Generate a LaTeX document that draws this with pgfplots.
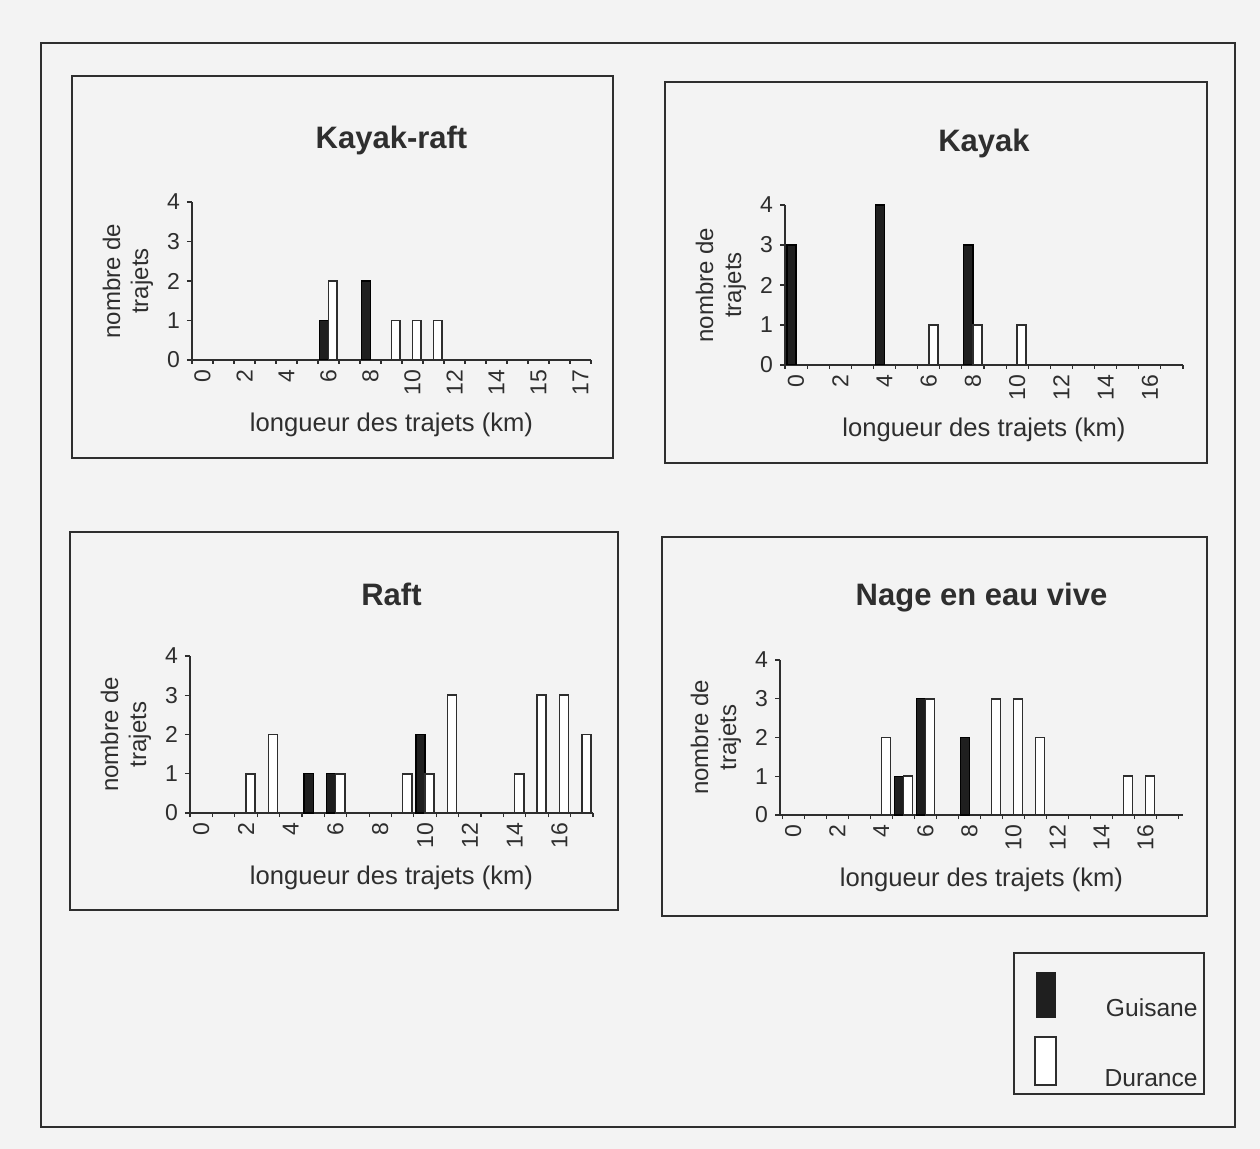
\documentclass[border=0pt]{standalone}
\usepackage{fontspec}
\setmainfont{Liberation Sans}
\usepackage{pgfplots}
\pgfplotsset{compat=1.18}

\definecolor{ink}{HTML}{2E2E2E}
\definecolor{paper}{HTML}{F3F3F3}

\pgfplotsset{
  trajets/.style={
    scale only axis,
    anchor=south west,
    ybar, bar width=0.41,
    enlargelimits=false,
    ymin=0, ymax=4, ytick={0,...,4},
    axis x line=bottom, axis y line=left,
    axis line style={-, ink, line width=0.9pt},
    tick align=outside,
    major tick length=2.5pt, minor tick length=2pt,
    major x tick style={draw=none},
    minor tick style={ink, line width=0.6pt},
    ytick style={ink, line width=0.6pt},
    /pgf/number format/assume math mode=true,
    tick label style={font=\fontsize{11.5}{13}\selectfont, text=ink},
    xticklabel style={rotate=90, anchor=east, xshift=1pt},
    xlabel={longueur des trajets (km)},
    xlabel style={at={(axis description cs:0.5,0)}, anchor=center, yshift=-32.5pt,
      font=\fontsize{12.8}{14}\selectfont, text=ink},
    ylabel={nombre de\\trajets},
    ylabel style={at={(axis description cs:0,0.5)}, anchor=center, yshift=32pt,
      align=center, font=\fontsize{12}{14}\selectfont, text=ink},
    title style={at={(axis description cs:0.5,1)}, anchor=center, yshift=25pt,
      font=\bfseries\fontsize{15.5}{18}\selectfont, text=ink},
  },
  guisane/.style={fill=black!88, draw=black, line width=0.6pt, bar shift=-0.205},
  durance/.style={fill=white, draw=ink, line width=0.8pt, bar shift=0.205},
}

\begin{document}
\begin{tikzpicture}[x=0.5pt, y=-0.5pt]

% page and frames
\fill[paper] (0,0) rectangle (1260,1149);
\draw[ink, line width=1.1pt] (41,43) rectangle (1235,1127);
\draw[ink, line width=0.9pt] (72,76) rectangle (613,458);
\draw[ink, line width=0.9pt] (665,82) rectangle (1207,463);
\draw[ink, line width=0.9pt] (70,532) rectangle (618,910);
\draw[ink, line width=0.9pt] (662,537) rectangle (1207,916);

% Kayak-raft
\begin{axis}[trajets, at={(96pt,-180pt)}, width=199.5pt, height=79pt,
    title={Kayak-raft},
    xmin=-0.5, xmax=18.5,
    xtick={0,2,...,18}, xticklabels={0,2,4,6,8,10,12,14,15,17},
    minor xtick={-0.5,0.5,...,18.5}]
\addplot[guisane] coordinates {(6,1) (8,2)};
\addplot[durance] coordinates {(6,2) (9,1) (10,1) (11,1)};
\end{axis}

% Kayak
\begin{axis}[trajets, at={(392.5pt,-182.5pt)}, width=199pt, height=80pt,
    title={Kayak},
    xmin=-0.5, xmax=17.5,
    xtick={0,2,...,16},
    minor xtick={-0.5,0.5,...,17.5}]
\addplot[guisane] coordinates {(0,3) (4,4) (8,3)};
\addplot[durance] coordinates {(6,1) (8,1) (10,1)};
\end{axis}

% Raft
\begin{axis}[trajets, at={(95pt,-406.5pt)}, width=201.5pt, height=78.5pt,
    title={Raft},
    xmin=-0.5, xmax=17.5,
    xtick={0,2,...,16},
    minor xtick={-0.5,0.5,...,17.5}]
\addplot[guisane] coordinates {(5,1) (6,1) (10,2)};
\addplot[durance] coordinates {(2,1) (3,2) (6,1) (9,1) (10,1) (11,3) (14,1) (15,3) (16,3) (17,2)};
\end{axis}

% Nage en eau vive
\begin{axis}[trajets, at={(390pt,-407.5pt)}, width=201.5pt, height=77.5pt,
    title={Nage en eau vive},
    xmin=-0.6, xmax=17.7,
    xtick={0,2,...,16},
    minor xtick={-0.5,0.5,...,17.5}]
\addplot[guisane] coordinates {(5,1) (6,3) (8,2)};
\addplot[durance] coordinates {(4,2) (5,1) (6,3) (9,3) (10,3) (11,2) (15,1) (16,1)};
\end{axis}

% legend
\draw[ink, line width=0.9pt] (1014,953) rectangle (1204,1094);
\fill[black!88] (1036,972) rectangle (1056,1018);
\draw[ink, line width=0.7pt, fill=white] (1035,1037) rectangle (1056,1085);
\node[anchor=base east, inner sep=0pt, text=ink, font=\fontsize{12.3}{14}\selectfont] at (1198,1017) {Guisane};
\node[anchor=base east, inner sep=0pt, text=ink, font=\fontsize{12.3}{14}\selectfont] at (1198,1087) {Durance};

\end{tikzpicture}
\end{document}
